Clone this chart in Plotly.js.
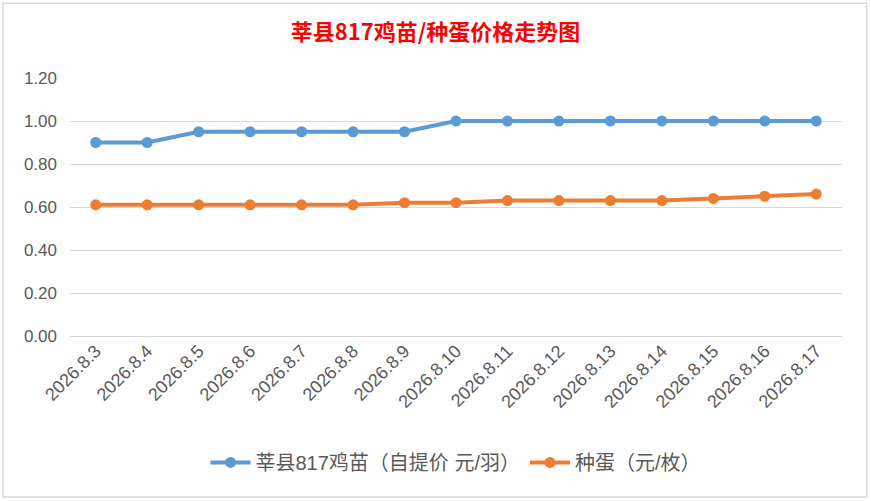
<!DOCTYPE html>
<html>
<head>
<meta charset="utf-8">
<script src="https://cdn.plot.ly/plotly-3.0.1.min.js"></script>
<style>
  html, body { margin: 0; padding: 0; background: #fff; }
  #chart { width: 871px; height: 501px; }
</style>
</head>
<body>
<div id="chart"></div>
<script>
  // dates on the x axis
  var dates = ['2026.8.3', '2026.8.4', '2026.8.5', '2026.8.6', '2026.8.7', '2026.8.8', '2026.8.9',
               '2026.8.10', '2026.8.11', '2026.8.12', '2026.8.13', '2026.8.14', '2026.8.15',
               '2026.8.16', '2026.8.17'];

  // chick price (yuan per bird, pickup)
  var chickPrice = [0.90, 0.90, 0.95, 0.95, 0.95, 0.95, 0.95, 1.00, 1.00, 1.00, 1.00, 1.00, 1.00, 1.00, 1.00];

  // hatching egg price (yuan per egg)
  var eggPrice = [0.61, 0.61, 0.61, 0.61, 0.61, 0.61, 0.62, 0.62, 0.63, 0.63, 0.63, 0.63, 0.64, 0.65, 0.66];

  var yTicks = [0, 0.2, 0.4, 0.6, 0.8, 1.0, 1.2];

  var font = 'Liberation Sans, Noto Sans CJK SC, sans-serif';
  var cjk = 'Noto Sans CJK SC, sans-serif';

  var trace1 = {
    x: dates,
    y: chickPrice,
    mode: 'lines+markers',
    name: '莘县817鸡苗（自提价 元/羽）',
    line: {color: '#5b9bd5', width: 4},
    marker: {color: '#5b9bd5', size: 11}
  };

  var trace2 = {
    x: dates,
    y: eggPrice,
    mode: 'lines+markers',
    name: '种蛋（元/枚）',
    line: {color: '#ed7d31', width: 4},
    marker: {color: '#ed7d31', size: 11}
  };

  var layout = {
    width: 871,
    height: 501,
    margin: {l: 70, r: 29, t: 78, b: 165},
    paper_bgcolor: '#fff',
    plot_bgcolor: '#fff',
    title: {
      text: '<b>莘县817鸡苗/种蛋价格走势图</b>',
      font: {family: cjk, size: 22, color: '#ff0000'},
      x: 0.5, xanchor: 'center',
      y: 0.936, yanchor: 'middle'
    },
    showlegend: true,
    legend: {
      orientation: 'h',
      x: 0.5, xanchor: 'center',
      y: -0.49, yanchor: 'middle',
      itemwidth: 40,
      font: {family: font, size: 20, color: '#595959'}
    },
    xaxis: {
      type: 'category',
      tickangle: -45,
      tickfont: {family: font, size: 18, color: '#595959'},
      showgrid: false,
      showline: false,
      zeroline: false,
      ticks: '',
      range: [-0.5, dates.length - 0.5]
    },
    yaxis: {
      range: [0, 1.2],
      tickvals: yTicks,
      tickformat: '.2f',
      tickfont: {family: font, size: 17, color: '#595959'},
      gridcolor: '#d9d9d9',
      gridwidth: 1,
      zeroline: true,
      zerolinecolor: '#d9d9d9',
      zerolinewidth: 1,
      ticks: '',
      ticklabelstandoff: 12
    },
    shapes: [
      {type: 'rect', xref: 'paper', yref: 'paper',
       x0: -0.0868, x1: 1.032, y0: -0.624, y1: 1.29,
       line: {color: '#d9d9d9', width: 1.5}}
    ]
  };

  Plotly.newPlot('chart', [trace1, trace2], layout, {displayModeBar: false});
</script>
</body>
</html>
